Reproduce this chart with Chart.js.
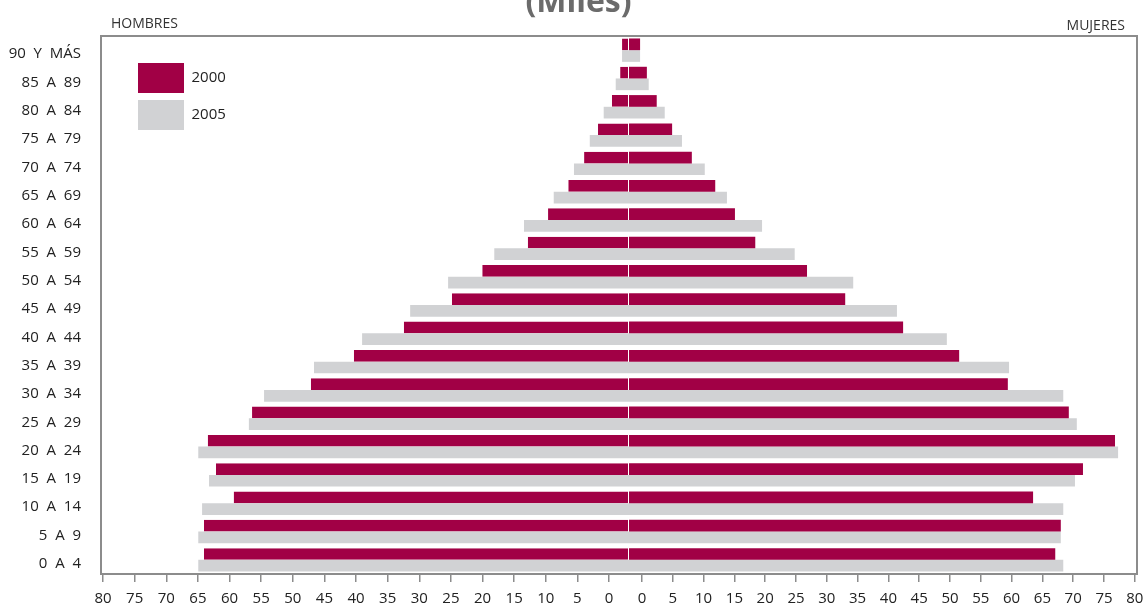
<!DOCTYPE html>
<html lang="es">
<head>
<meta charset="UTF-8">
<title>Pirámide de población (Miles)</title>
<script src="https://cdn.jsdelivr.net/npm/chart.js@4/dist/chart.umd.min.js"></script>
<style>
  html, body { margin: 0; padding: 0; background: #fff; overflow: hidden; }
  #wrap { position: absolute; left: 0; top: -16px; width: 1147px; height: 625px; }
</style>
</head>
<body>
<div id="wrap"><canvas id="piramide" width="1147" height="625"></canvas></div>
<script>
// grupos de edad, del mas joven al mas viejo (miles de personas)
const grupos = ['0  A  4', '5  A  9', '10  A  14', '15  A  19', '20  A  24', '25  A  29',
  '30  A  34', '35  A  39', '40  A  44', '45  A  49', '50  A  54', '55  A  59',
  '60  A  64', '65  A  69', '70  A  74', '75  A  79', '80  A  84', '85  A  89', '90  Y  MÁS'];
const hombres2000 = [67.2, 67.2, 62.5, 65.3, 66.6, 59.6, 50.3, 43.5, 35.6, 28.0, 23.2, 16.0, 12.8, 9.6, 7.1, 4.9, 2.7, 1.4, 1.1];
const hombres2005 = [68.1, 68.1, 67.5, 66.4, 68.1, 60.1, 57.7, 49.8, 42.2, 34.6, 28.6, 21.3, 16.6, 11.9, 8.7, 6.2, 4.0, 2.1, 1.1];
const mujeres2000 = [69.2, 70.1, 65.6, 73.7, 78.9, 71.4, 61.5, 53.6, 44.5, 35.1, 28.9, 20.5, 17.2, 14.0, 10.2, 7.0, 4.5, 2.9, 1.8];
const mujeres2005 = [70.5, 70.1, 70.5, 72.4, 79.4, 72.7, 70.5, 61.7, 51.6, 43.5, 36.4, 26.9, 21.6, 15.9, 12.3, 8.6, 5.8, 3.2, 1.8];
const marcas = [0, 5, 10, 15, 20, 25, 30, 35, 40, 45, 50, 55, 60, 65, 70, 75, 80];

const GUINDA = '#a10045';
const GRIS = '#d1d2d4';

Chart.defaults.font.family = "'Open Sans', sans-serif";
Chart.defaults.color = '#222';

// arriba va el grupo de 90 y mas
const arriba = a => a.slice().reverse();

// marco del grafico, leyenda dentro del area y rotulos HOMBRES / MUJERES
const marco = {
  id: 'marco',
  afterLayout(chart) {
    const a = chart.chartArea;
    chart.legend.left += 30;
    chart.legend.top = a.top;
    chart.legend.bottom = a.bottom;
    // que las etiquetas largas del eje y no se recorten
    chart.scales.y.left = 0;
  },
  afterDraw(chart) {
    const { ctx, chartArea: a } = chart;
    ctx.save();
    ctx.strokeStyle = '#8c8c8c';
    ctx.lineWidth = 2;
    ctx.strokeRect(a.left, a.top, a.right - a.left, a.bottom - a.top);
    ctx.fillStyle = '#333';
    ctx.font = "14px 'Open Sans'";
    ctx.textBaseline = 'middle';
    ctx.textAlign = 'left';
    ctx.fillText('HOMBRES', a.left + 10, a.top - 12);
    ctx.textAlign = 'right';
    ctx.fillText('MUJERES', a.right - 12, a.top - 10);
    ctx.restore();
  }
};

const ejeMarcas = (reversa, min, max, peso) => ({
  type: 'linear',
  position: 'bottom',
  stack: 'marcas',
  stackWeight: peso,
  reverse: reversa,
  min: min,
  max: max,
  afterBuildTicks: s => { s.ticks = marcas.map(v => ({ value: v })); },
  afterFit: s => { s.height = 35; s.paddingLeft = 0; s.paddingRight = 0; },
  border: { display: false },
  grid: { drawOnChartArea: false, drawTicks: true, tickLength: 8, color: '#8c8c8c', lineWidth: 1.5 },
  ticks: { autoSkip: false, maxRotation: 0, padding: 8, color: '#222', font: { size: 15 } }
});

new Chart(document.getElementById('piramide'), {
  type: 'bar',
  data: {
    labels: arriba(grupos),
    datasets: [
      { label: '2000', data: arriba(hombres2000), xAxisID: 'xh', stack: '2000',
        backgroundColor: GUINDA, borderColor: '#fff', borderSkipped: false,
        borderWidth: { top: 0, right: 1, bottom: 0, left: 0 } },
      { label: '2005', data: arriba(hombres2005), xAxisID: 'xh', stack: '2005',
        backgroundColor: GRIS, borderWidth: 0 },
      { label: '2000', data: arriba(mujeres2000), xAxisID: 'xm', stack: '2000',
        backgroundColor: GUINDA, borderWidth: 0 },
      { label: '2005', data: arriba(mujeres2005), xAxisID: 'xm', stack: '2005',
        backgroundColor: GRIS, borderWidth: 0 }
    ]
  },
  options: {
    indexAxis: 'y',
    responsive: false,
    animation: false,
    devicePixelRatio: 1,
    categoryPercentage: 0.826,
    barPercentage: 1.0,
    layout: { padding: { left: 20, right: 10, top: 0, bottom: 0 } },
    scales: {
      y: {
        type: 'category',
        afterFit: s => { s.width = 81; },
        border: { display: false },
        grid: { display: false, drawTicks: false },
        ticks: { padding: 20, labelOffset: 4, color: '#222', font: { size: 15 } }
      },
      // ejes de datos: el cero en el centro de la piramide
      xh: { type: 'linear', display: false, position: 'bottom', stack: 'datos', stackWeight: 528,
            reverse: true, min: 0, max: 83.48 },
      xm: { type: 'linear', display: false, position: 'bottom', stack: 'datos', stackWeight: 508,
            min: 0, max: 82.47 },
      // escala impresa debajo
      xhMarcas: ejeMarcas(true, -3.16, 80.32, 528),
      xmMarcas: ejeMarcas(false, -2.11, 80.36, 508)
    },
    plugins: {
      title: {
        display: true,
        text: '(Miles)',
        color: '#6b6b6b',
        font: { size: 32, weight: 'bold' },
        padding: { top: 0, bottom: 13.6 }
      },
      legend: {
        position: 'chartArea',
        align: 'start',
        title: { display: true, text: '', padding: 0, font: { size: 10, lineHeight: 2 } },
        labels: {
          boxWidth: 46,
          boxHeight: 30,
          padding: 7,
          color: '#222',
          font: { size: 15 },
          generateLabels: chart => Chart.defaults.plugins.legend.labels.generateLabels(chart)
            .filter(l => l.datasetIndex < 2)
            .map(l => Object.assign(l, { lineWidth: 0 }))
        }
      },
      tooltip: { enabled: false }
    }
  },
  plugins: [marco]
});
</script>
</body>
</html>
